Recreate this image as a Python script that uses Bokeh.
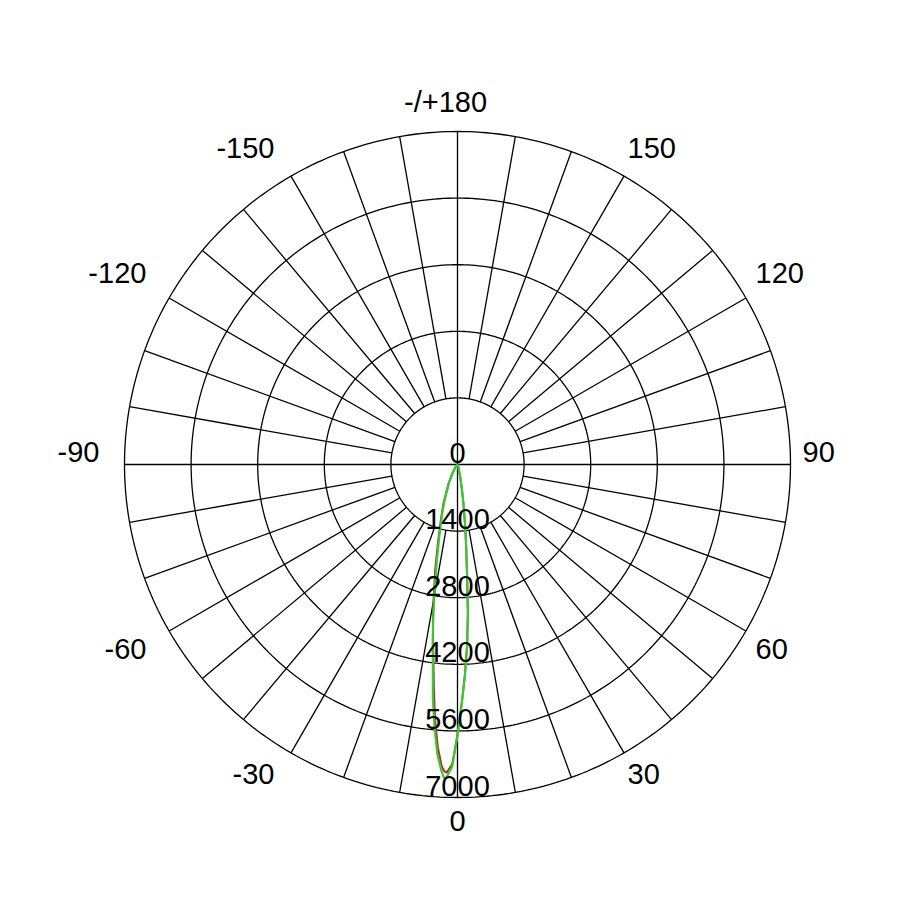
import numpy as np
from bokeh.plotting import figure
from bokeh.models import ColumnDataSource
from bokeh.embed import file_html
from bokeh.resources import INLINE
from bokeh.core.properties import value

# luminous intensity (cd) vs gamma angle (deg), 0 = straight down
angles = [-180, -90, -60, -45, -40, -35, -30, -25, -20, -18, -16, -14, -12, -10,
          -9, -8, -7, -6, -5, -4, -3, -2.5, -2, -1, 0, 1, 2, 3, 4, 5, 6, 7, 8, 9,
          10, 12, 15, 20, 25, 30, 45, 60, 90, 180]

red_cd = [0, 0, 0, 10, 35, 90, 220, 450, 850, 1050, 1320, 1700, 2250, 2900,
          3300, 3700, 4150, 4750, 5400, 5950, 6350, 6450, 6480, 6300, 5680, 5030, 4430, 3830, 3130, 2290, 1740, 1340, 990, 740,
          540, 290, 115, 40, 15, 5, 0, 0, 0, 0]

green_cd = [0, 0, 0, 10, 30, 80, 200, 420, 780, 1000, 1250, 1600, 2100, 2800,
            3250, 3750, 4250, 4950, 5550, 6100, 6450, 6590, 6580, 6350, 5700, 5050, 4450, 3850, 3150, 2300, 1750, 1350, 1000, 750,
            550, 300, 120, 40, 15, 5, 0, 0, 0, 0]

ring_values = [1400, 2800, 4200, 5600, 7000]
ring_labels = ["1400", "2800", "4200", "5600", "7000"]

angle_ticks = [0, 30, 60, 90, 120, 150, 180, -150, -120, -90, -60, -30]
angle_labels = ["0", "30", "60", "90", "120", "150", "-/+180", "-150", "-120", "-90", "-60", "-30"]

r_max = ring_values[-1]
W = H = 884
R_PX = 333.0
k = r_max / R_PX          # cd per pixel
cx, cy = 457, 464         # centre in frame pixels


def to_xy(ang, r):
    a = np.radians(np.asarray(ang, dtype=float))
    r = np.asarray(r, dtype=float)
    return r * np.sin(a), -r * np.cos(a)


p = figure(width=W, height=H, output_backend="svg", toolbar_location=None,
           x_range=(-cx * k, (W - cx) * k), y_range=(-(H - cy) * k, cy * k),
           min_border=0)
p.axis.visible = False
p.grid.visible = False
p.outline_line_color = None
p.background_fill_color = "white"

# rings
for rv in ring_values:
    t = np.linspace(0, 360, 361)
    x, y = to_xy(t, np.full_like(t, rv))
    p.line(x, y, line_color="black", line_width=1.3)

# spokes every 10 degrees between inner and outer ring, main axes through centre
xs, ys = [], []
for a in range(0, 360, 10):
    r0 = 0 if a % 90 == 0 else ring_values[0]
    x, y = to_xy([a, a], [r0, r_max])
    xs.append(list(x))
    ys.append(list(y))
p.multi_line(xs, ys, line_color="black", line_width=1.3)

# curves
x, y = to_xy(angles, red_cd)
p.line(x, y, line_color="#c0281e", line_width=2, line_join="round")
x, y = to_xy(angles, green_cd)
p.line(x, y, line_color="#33cc33", line_width=2.2, line_join="round")

font = value("Liberation Sans")

# ring labels
lab_x = [0] + [0] * len(ring_values)
lab_y = [0] + [-rv for rv in ring_values]
p.text(lab_x, lab_y, text=["0"] + ring_labels, text_font=font, text_font_size="29px",
       text_align="center", text_baseline="alphabetic", text_color="black",
       y_offset=-12)

# angle labels, anchored just outside the outer ring
lx, ly, ltxt, lalign, xoff, yoff = [], [], [], [], [], []
for a, t in zip(angle_ticks, angle_labels):
    x, y = to_xy([a], [350 * k])
    lx.append(float(x[0]))
    ly.append(float(y[0]))
    ltxt.append(t)
    if a == 0:
        lalign.append("center"); xoff.append(0)
    elif a == 180:
        lalign.append("center"); xoff.append(-12)
    elif a > 0:
        lalign.append("left"); xoff.append(-5)
    else:
        lalign.append("right"); xoff.append(-8)
    if abs(a) == 120:
        yoff.append(-17)
    elif abs(a) == 60:
        yoff.append(9)
    elif abs(a) < 90:
        yoff.append(6)
    else:
        yoff.append(-13)
src = ColumnDataSource(dict(x=lx, y=ly, text=ltxt, align=lalign, xo=xoff, yo=yoff))
p.text("x", "y", text="text", text_align="align", x_offset="xo", y_offset="yo",
       source=src, text_font=font, text_font_size="29px",
       text_baseline="alphabetic", text_color="black")

open("out.html", "w").write(file_html(p, INLINE))
